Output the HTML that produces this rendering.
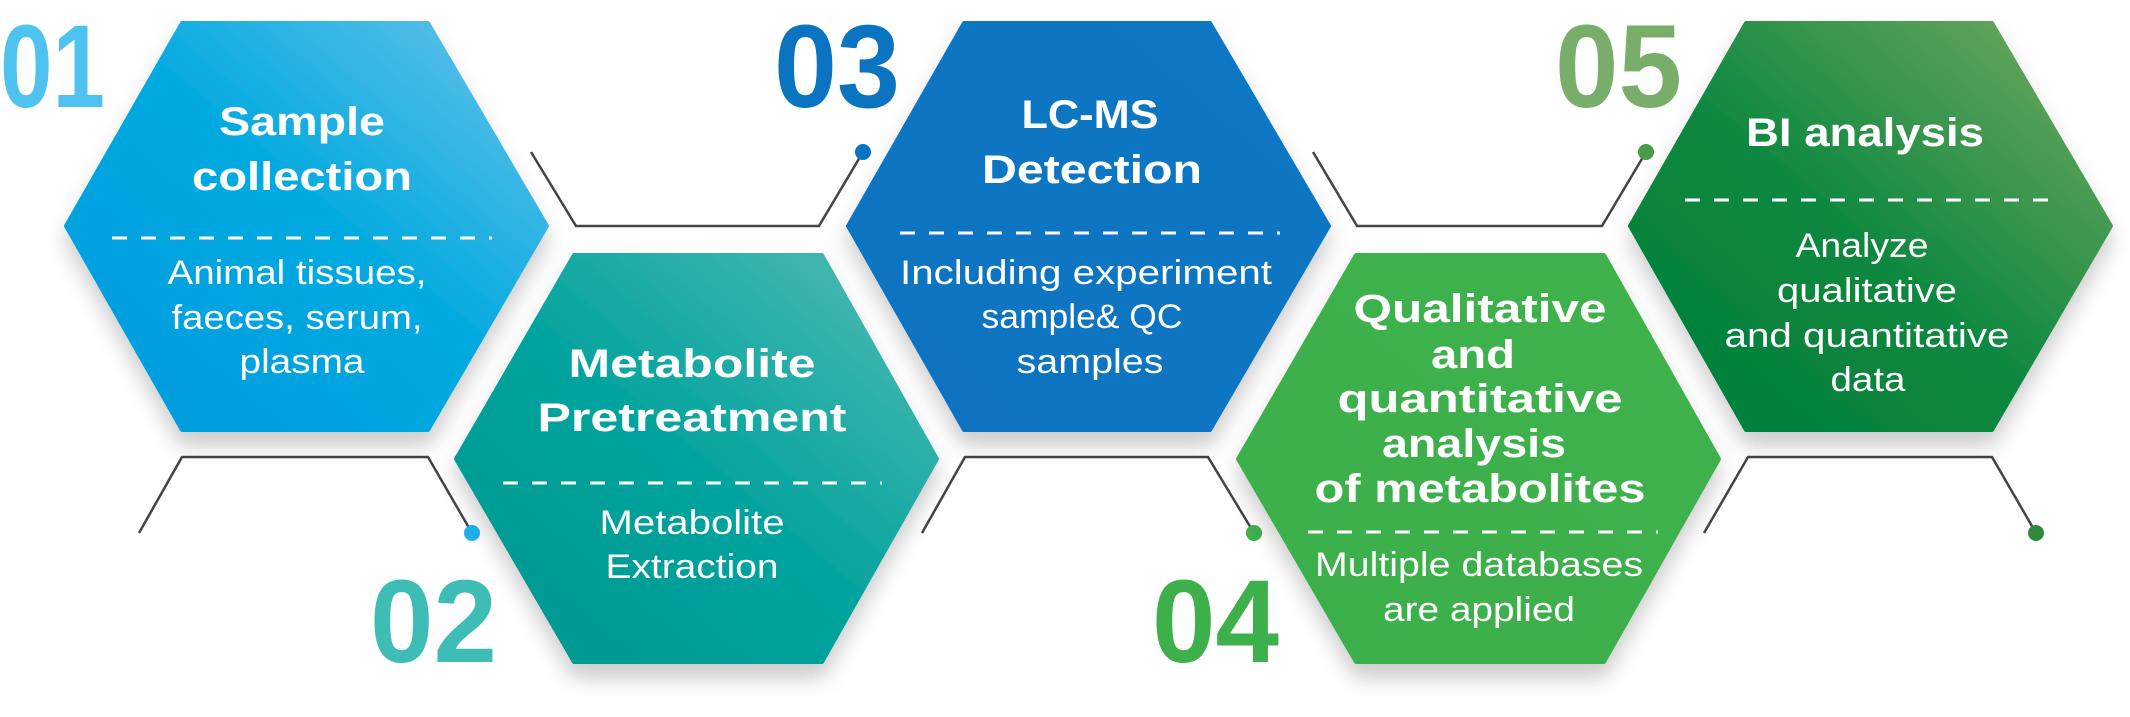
<!DOCTYPE html>
<html><head><meta charset="utf-8"><style>
html,body{margin:0;padding:0;background:#fff;}
svg{display:block;}
text{font-family:"Liberation Sans",sans-serif;fill:#fff;}
.t{font-weight:bold;font-size:40px;}
.b{font-size:34px;}
.n{font-weight:bold;font-size:118px;}
</style></head><body>
<svg width="2130" height="717" viewBox="0 0 2130 717" xmlns="http://www.w3.org/2000/svg">
<defs>
<linearGradient id="g1" x1="0" y1="1" x2="1" y2="0"><stop offset="0" stop-color="#0099df"/><stop offset="0.55" stop-color="#06abe0"/><stop offset="1" stop-color="#6cc3e9"/></linearGradient>
<linearGradient id="g2" x1="0" y1="1" x2="1" y2="0"><stop offset="0" stop-color="#00968f"/><stop offset="0.5" stop-color="#05a49e"/><stop offset="1" stop-color="#55bbb6"/></linearGradient>
<linearGradient id="g3" x1="0" y1="1" x2="1" y2="0"><stop offset="0" stop-color="#0a72c0"/><stop offset="1" stop-color="#0a78c4"/></linearGradient>
<linearGradient id="g4" x1="0" y1="1" x2="1" y2="0"><stop offset="0" stop-color="#3aaf4a"/><stop offset="1" stop-color="#40b24d"/></linearGradient>
<linearGradient id="g5" x1="0" y1="1" x2="1" y2="0"><stop offset="0" stop-color="#027f3a"/><stop offset="0.45" stop-color="#0a873f"/><stop offset="1" stop-color="#78aa62"/></linearGradient>
<filter id="sh" x="-20%" y="-20%" width="140%" height="150%"><feDropShadow dx="0" dy="14" stdDeviation="10" flood-color="#000" flood-opacity="0.2"/></filter>
</defs>

<g fill="none" stroke="#444" stroke-width="2.5" stroke-linejoin="round">
<polyline points="531,152 576,226 819,226 863,152"/>
<polyline points="139,533 182,457 428,457 472,533"/>
<polyline points="922,533 965,457 1208,457 1254,533"/>
<polyline points="1313,152 1357,226 1602,226 1646,152"/>
<polyline points="1704,533 1748,457 1992,457 2036,533"/>
</g>
<circle cx="863" cy="152" r="8" fill="#0a74c2"/>
<circle cx="472" cy="533" r="8" fill="#1fb1ec"/>
<circle cx="1254" cy="533" r="8" fill="#3db04b"/>
<circle cx="1646" cy="152" r="8" fill="#4a9a48"/>
<circle cx="2036" cy="533" r="8" fill="#2f8a3f"/>

<g filter="url(#sh)" stroke-linejoin="round" stroke-width="4">
<polygon points="66,226 182,23 428,23 547,226 428,430 182,430" fill="url(#g1)" stroke="url(#g1)"/>
<polygon points="848,226 964,23 1210,23 1329,226 1210,430 964,430" fill="url(#g3)" stroke="url(#g3)"/>
<polygon points="1630,226 1746,23 1992,23 2111,226 1992,430 1746,430" fill="url(#g5)" stroke="url(#g5)"/>
<polygon points="456,459 574,255 822,255 937,459 822,662 574,662" fill="url(#g2)" stroke="url(#g2)"/>
<polygon points="1238,459 1356,255 1604,255 1719,459 1604,662 1356,662" fill="url(#g4)" stroke="url(#g4)"/>
</g>

<text class="n" x="0" y="107" textLength="105" lengthAdjust="spacingAndGlyphs" style="fill:#4fc3ef">01</text>
<text class="n" x="774" y="107" textLength="126" lengthAdjust="spacingAndGlyphs" style="fill:#0a74c0">03</text>
<text class="n" x="1555" y="107" textLength="127" lengthAdjust="spacingAndGlyphs" style="fill:#78ad6a">05</text>
<text class="n" x="370" y="662" textLength="127" lengthAdjust="spacingAndGlyphs" style="fill:#3dbdb6">02</text>
<text class="n" x="1152" y="662" textLength="127" lengthAdjust="spacingAndGlyphs" style="fill:#3db04b">04</text>

<g stroke="#fff" stroke-width="3" stroke-dasharray="15 14">
<line x1="112" y1="238" x2="492" y2="238"/>
<line x1="900" y1="233" x2="1280" y2="233"/>
<line x1="1685" y1="200" x2="2062" y2="200"/>
<line x1="503" y1="483" x2="882" y2="483"/>
<line x1="1308" y1="532" x2="1658" y2="532"/>
</g>

<g text-anchor="middle">
<text class="t" x="302" y="135" textLength="166" lengthAdjust="spacingAndGlyphs">Sample</text>
<text class="t" x="302" y="190" textLength="220" lengthAdjust="spacingAndGlyphs">collection</text>
<text class="b" x="297" y="284" textLength="259" lengthAdjust="spacingAndGlyphs">Animal tissues,</text>
<text class="b" x="297" y="329" textLength="251" lengthAdjust="spacingAndGlyphs">faeces, serum,</text>
<text class="b" x="302" y="373" textLength="125" lengthAdjust="spacingAndGlyphs">plasma</text>
<text class="t" x="692" y="377" textLength="247" lengthAdjust="spacingAndGlyphs">Metabolite</text>
<text class="t" x="692" y="431" textLength="309" lengthAdjust="spacingAndGlyphs">Pretreatment</text>
<text class="b" x="692" y="534" textLength="185" lengthAdjust="spacingAndGlyphs">Metabolite</text>
<text class="b" x="692" y="578" textLength="173" lengthAdjust="spacingAndGlyphs">Extraction</text>
<text class="t" x="1090" y="128" textLength="137" lengthAdjust="spacingAndGlyphs">LC-MS</text>
<text class="t" x="1092" y="183" textLength="220" lengthAdjust="spacingAndGlyphs">Detection</text>
<text class="b" x="1086" y="284" textLength="372" lengthAdjust="spacingAndGlyphs">Including experiment</text>
<text class="b" x="1082" y="328" textLength="201" lengthAdjust="spacingAndGlyphs">sample&amp; QC</text>
<text class="b" x="1090" y="373" textLength="147" lengthAdjust="spacingAndGlyphs">samples</text>
<text class="t" x="1480" y="322" textLength="253" lengthAdjust="spacingAndGlyphs">Qualitative</text>
<text class="t" x="1473" y="368" textLength="84" lengthAdjust="spacingAndGlyphs">and</text>
<text class="t" x="1480" y="412" textLength="285" lengthAdjust="spacingAndGlyphs">quantitative</text>
<text class="t" x="1474" y="457" textLength="184" lengthAdjust="spacingAndGlyphs">analysis</text>
<text class="t" x="1480" y="502" textLength="331" lengthAdjust="spacingAndGlyphs">of metabolites</text>
<text class="b" x="1479" y="576" textLength="328" lengthAdjust="spacingAndGlyphs">Multiple databases</text>
<text class="b" x="1479" y="621" textLength="192" lengthAdjust="spacingAndGlyphs">are applied</text>
<text class="t" x="1865" y="146" textLength="238" lengthAdjust="spacingAndGlyphs">BI analysis</text>
<text class="b" x="1862" y="257" textLength="133" lengthAdjust="spacingAndGlyphs">Analyze</text>
<text class="b" x="1867" y="302" textLength="180" lengthAdjust="spacingAndGlyphs">qualitative</text>
<text class="b" x="1867" y="347" textLength="285" lengthAdjust="spacingAndGlyphs">and quantitative</text>
<text class="b" x="1868" y="391" textLength="75" lengthAdjust="spacingAndGlyphs">data</text>
</g>
</svg>
</body></html>
